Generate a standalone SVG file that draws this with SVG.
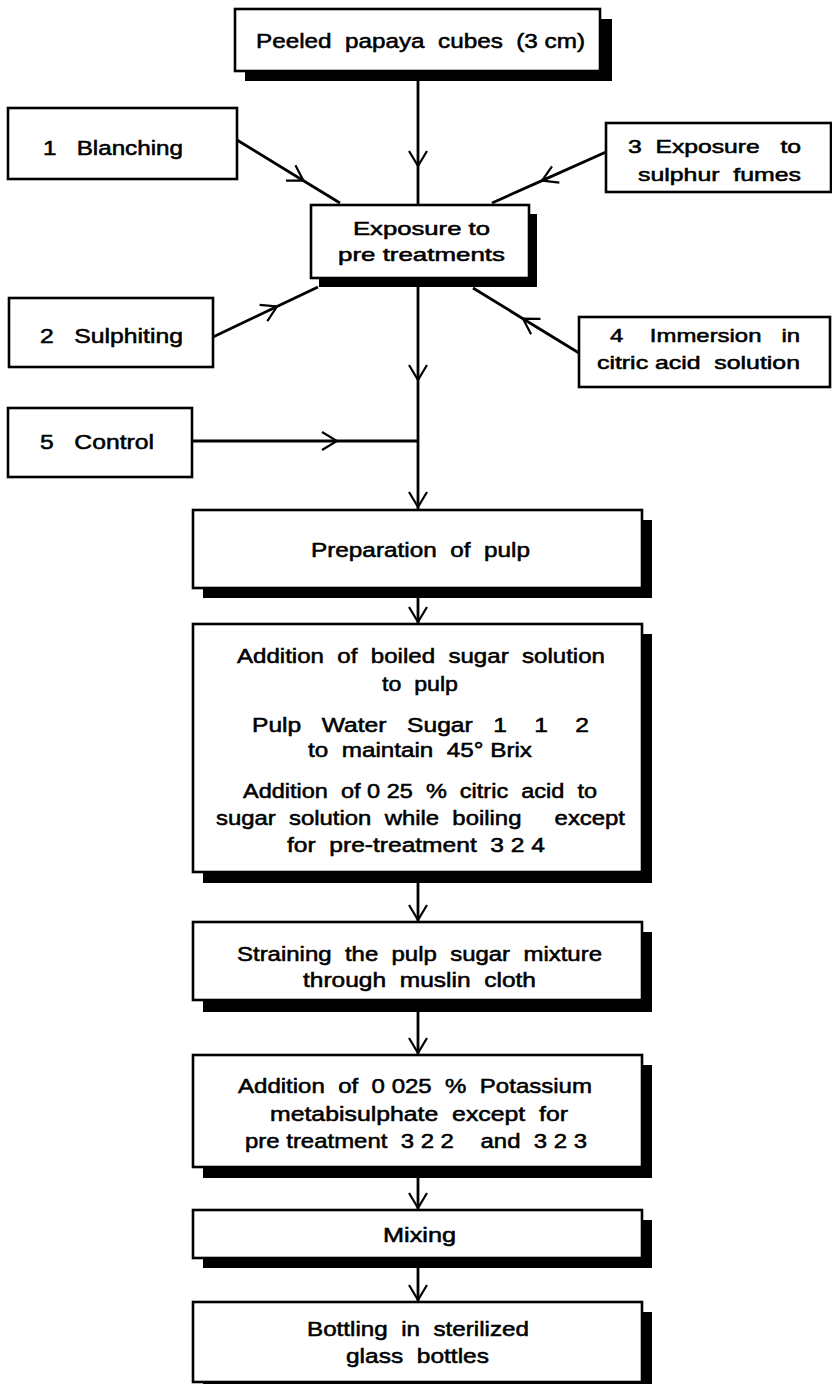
<svg xmlns="http://www.w3.org/2000/svg" width="832" height="1384" viewBox="0 0 832 1384" xml:space="preserve">
<style>
.box{fill:#fff;stroke:#000;stroke-width:2.6}
.sh{fill:#000}
.t{font-family:"Liberation Sans",Arial,sans-serif;font-size:21px;fill:#000;stroke:#000;stroke-width:0.55;white-space:pre}
.s{font-size:19px}
.c{fill:none;stroke:#000;stroke-width:2.8;marker-mid:url(#v)}
</style>
<defs>
<marker id="v" markerUnits="userSpaceOnUse" viewBox="-18 -12 20 24" refX="0" refY="0" markerWidth="20" markerHeight="24" orient="auto">
<path d="M-15,-9 L0,0 L-15,9" fill="none" stroke="#000" stroke-width="2.2"/>
</marker>
</defs>
<rect width="832" height="1384" fill="#fff"/>
<g id="connectors">
<path class="c" d="M418,81 L418,166 L418,205"/>
<path class="c" d="M237,140 L303.5,180.7 L340,203"/>
<path class="c" d="M606,152 L542,180.6 L492,203"/>
<path class="c" d="M213,337 L277,306.5 L318,287"/>
<path class="c" d="M579,353 L523,318.7 L473,288"/>
<path class="c" d="M418,287 L418,380 L418,441"/>
<path class="c" d="M192,441 L337,441 L418,441"/>
<path class="c" d="M418,441 L418,507 L418,510"/>
<path class="c" d="M418,598 L418,622 L418,624"/>
<path class="c" d="M418,883 L418,920 L418,922"/>
<path class="c" d="M418,1012 L418,1053 L418,1055"/>
<path class="c" d="M418,1178 L418,1208 L418,1210"/>
<path class="c" d="M418,1268 L418,1300 L418,1302"/>
</g>
<g id="n-start">
<rect class="sh" x="245" y="19" width="367" height="62"/>
<rect class="box" x="235" y="9" width="365" height="62"/>
<text class="t" x="256" y="48" font-size="22" textLength="329" lengthAdjust="spacingAndGlyphs">Peeled  papaya  cubes  (3 cm)</text>
</g>
<g id="n-blanching">
<rect class="box" x="8" y="108" width="229" height="71"/>
<text class="t" x="43" y="155" font-size="20" textLength="140" lengthAdjust="spacingAndGlyphs">1   Blanching</text>
</g>
<g id="n-sulphur">
<rect class="box" x="606" y="123" width="225" height="69"/>
<text class="t s" x="628" y="153" textLength="173" lengthAdjust="spacingAndGlyphs">3  Exposure   to</text>
<text class="t s" x="638" y="181" textLength="163" lengthAdjust="spacingAndGlyphs">sulphur  fumes</text>
</g>
<g id="n-exposure">
<rect class="sh" x="319" y="214" width="218" height="73"/>
<rect class="box" x="311" y="205" width="218" height="73"/>
<text class="t s" x="353" y="235" textLength="137" lengthAdjust="spacingAndGlyphs">Exposure to</text>
<text class="t s" x="338" y="261" textLength="167" lengthAdjust="spacingAndGlyphs">pre treatments</text>
</g>
<g id="n-sulphiting">
<rect class="box" x="9" y="298" width="204" height="69"/>
<text class="t" x="40" y="343" font-size="20" textLength="143" lengthAdjust="spacingAndGlyphs">2   Sulphiting</text>
</g>
<g id="n-immersion">
<rect class="box" x="579" y="317" width="251" height="70"/>
<text class="t s" x="610" y="342" textLength="190" lengthAdjust="spacingAndGlyphs">4    Immersion   in</text>
<text class="t s" x="597" y="369" textLength="203" lengthAdjust="spacingAndGlyphs">citric acid  solution</text>
</g>
<g id="n-control">
<rect class="box" x="8" y="408" width="184" height="69"/>
<text class="t" x="40" y="449" font-size="20" textLength="114" lengthAdjust="spacingAndGlyphs">5   Control</text>
</g>
<g id="n-pulp">
<rect class="sh" x="203" y="520" width="449" height="78"/>
<rect class="box" x="193" y="510" width="449" height="78"/>
<text class="t" x="311" y="557" font-size="22" textLength="219" lengthAdjust="spacingAndGlyphs">Preparation  of  pulp</text>
</g>
<g id="n-sugar">
<rect class="sh" x="203" y="634" width="449" height="249"/>
<rect class="box" x="193" y="624" width="449" height="248"/>
<text class="t" x="237" y="663" textLength="368" lengthAdjust="spacingAndGlyphs">Addition  of  boiled  sugar  solution</text>
<text class="t" x="382" y="691" textLength="76" lengthAdjust="spacingAndGlyphs">to  pulp</text>
<text class="t" x="252" y="732" textLength="337" lengthAdjust="spacingAndGlyphs">Pulp   Water   Sugar   1    1    2</text>
<text class="t" x="308" y="757" textLength="224" lengthAdjust="spacingAndGlyphs">to  maintain  45° Brix</text>
<text class="t" x="243" y="798" textLength="354" lengthAdjust="spacingAndGlyphs">Addition  of 0 25  %  citric  acid  to</text>
<text class="t" x="216" y="825" textLength="409" lengthAdjust="spacingAndGlyphs">sugar  solution  while  boiling     except</text>
<text class="t" x="287" y="852" textLength="258" lengthAdjust="spacingAndGlyphs">for  pre-treatment  3 2 4</text>
</g>
<g id="n-straining">
<rect class="sh" x="203" y="932" width="449" height="80"/>
<rect class="box" x="193" y="922" width="449" height="78"/>
<text class="t" x="237" y="961" textLength="365" lengthAdjust="spacingAndGlyphs">Straining  the  pulp  sugar  mixture</text>
<text class="t" x="303" y="987" textLength="233" lengthAdjust="spacingAndGlyphs">through  muslin  cloth</text>
</g>
<g id="n-kms">
<rect class="sh" x="203" y="1065" width="449" height="113"/>
<rect class="box" x="193" y="1055" width="449" height="112"/>
<text class="t" x="238" y="1093" textLength="354" lengthAdjust="spacingAndGlyphs">Addition  of  0 025  %  Potassium</text>
<text class="t" x="270" y="1121" textLength="298" lengthAdjust="spacingAndGlyphs">metabisulphate  except  for</text>
<text class="t" x="245" y="1148" textLength="342" lengthAdjust="spacingAndGlyphs">pre treatment  3 2 2    and  3 2 3</text>
</g>
<g id="n-mixing">
<rect class="sh" x="203" y="1220" width="449" height="48"/>
<rect class="box" x="193" y="1210" width="449" height="48"/>
<text class="t" x="383" y="1242" textLength="73" lengthAdjust="spacingAndGlyphs">Mixing</text>
</g>
<g id="n-bottling">
<rect class="sh" x="203" y="1312" width="449" height="80"/>
<rect class="box" x="193" y="1302" width="449" height="80"/>
<text class="t" x="307" y="1336" textLength="222" lengthAdjust="spacingAndGlyphs">Bottling  in  sterilized</text>
<text class="t" x="346" y="1363" textLength="143" lengthAdjust="spacingAndGlyphs">glass  bottles</text>
</g>
</svg>
